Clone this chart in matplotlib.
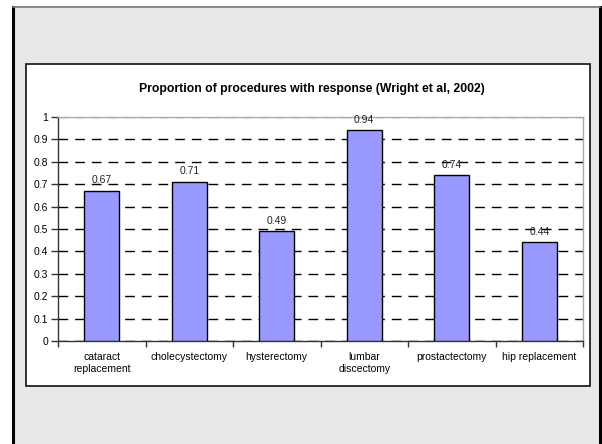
import matplotlib
matplotlib.use("Agg")
from matplotlib import pyplot as plt
from matplotlib.patches import Rectangle
import numpy as np

procedures = ["cataract\nreplacement", "cholecystectomy", "hysterectomy",
              "lumbar\ndiscectomy", "prostactectomy", "hip replacement"]
proportions = [0.67, 0.71, 0.49, 0.94, 0.74, 0.44]
value_labels = ["0.67", "0.71", "0.49", "0.94", "0.74", "0.44"]
y_ticks = [0, 0.1, 0.2, 0.3, 0.4, 0.5, 0.6, 0.7, 0.8, 0.9, 1]
y_tick_labels = ["0", "0.1", "0.2", "0.3", "0.4", "0.5", "0.6", "0.7", "0.8", "0.9", "1"]

plt.rcParams['font.family'] = ['Liberation Sans', 'DejaVu Sans']

W, H = 602, 444
fig = plt.figure(figsize=(W / 100, H / 100), dpi=100, facecolor="white")


def px_rect(x0, y0, x1, y1, **kw):
	# rectangle given in pixel coords with origin at top-left
	return Rectangle((x0 / W, 1 - y1 / H), (x1 - x0) / W, (y1 - y0) / H,
					 transform=fig.transFigure, figure=fig, **kw)


# slide background and frame
fig.patches.append(px_rect(13, 7, 600, 460, facecolor="#e8e8e8",
						   edgecolor="none", zorder=-3))
fig.add_artist(plt.Line2D([13 / W, 13 / W], [0, 1 - 7 / H], color="black",
						  lw=2.2, transform=fig.transFigure, zorder=-2))
fig.add_artist(plt.Line2D([600 / W, 600 / W], [0, 1 - 7 / H], color="black",
						  lw=2.2, transform=fig.transFigure, zorder=-2))
fig.add_artist(plt.Line2D([13 / W, 600 / W], [1 - 7 / H, 1 - 7 / H],
						  color="#777777", lw=1.2, transform=fig.transFigure,
						  zorder=-2))

# chart area
fig.patches.append(px_rect(26, 64, 590, 386, facecolor="white",
						   edgecolor="#222222", lw=1.3, zorder=-1))

fig.text(312 / W, 1 - 89 / H,
		 "Proportion of procedures with response (Wright et al, 2002)",
		 ha="center", va="center", fontsize=8.8, fontweight="bold")

ax = fig.add_axes([58 / W, 1 - 341 / H, 525 / W, 224 / H])
ax.set_facecolor("white")

x = np.arange(len(procedures))
ax.bar(x, proportions, width=0.4, color="#9999ff", edgecolor="black",
	   linewidth=1.0, zorder=3)

for xi, v, lab in zip(x, proportions, value_labels):
	ax.text(xi, v + 0.025, lab, ha="center", va="bottom", fontsize=7.5,
			color="#222222", zorder=4)

ax.set_xlim(-0.5, len(procedures) - 0.5)
ax.set_ylim(0, 1)

ax.set_yticks(y_ticks)
ax.set_yticklabels(y_tick_labels)
ax.yaxis.grid(True, color="black", linestyle=(0, (7, 5)), linewidth=1.0,
			  zorder=1)
# top gridline sits on the grey plot border
ax.get_ygridlines()[-1].set_color("#777777")

# tick marks between categories, labels at the centres
ax.set_xticks(np.arange(-0.5, len(procedures), 1.0))
ax.set_xticklabels([])
ax.set_xticks(x, minor=True)
ax.set_xticklabels(procedures, minor=True)
ax.tick_params(axis="x", which="minor", length=0, pad=8, labelsize=7.5)
ax.tick_params(axis="x", which="major", length=4, width=1, color="#333333")
ax.tick_params(axis="y", length=5, width=1, color="#333333", labelsize=7.5,
			   pad=2)

for s in ["left", "bottom"]:
	ax.spines[s].set_color("#333333")
	ax.spines[s].set_linewidth(1.0)
for s in ["top", "right"]:
	ax.spines[s].set_color("#aaaaaa")
	ax.spines[s].set_linewidth(1.0)

fig.savefig("out.png", dpi=100, facecolor="white")
